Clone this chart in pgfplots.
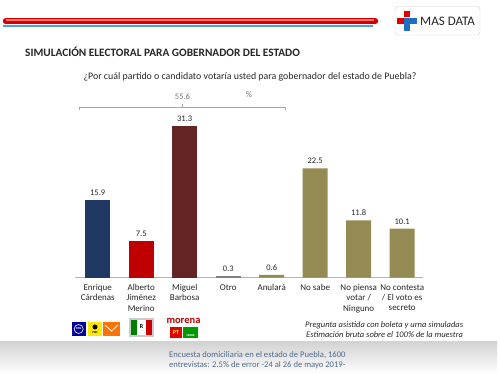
\documentclass[border=0pt]{standalone}
\usepackage{pgfplots}
\pgfplotsset{compat=1.18}
\usepackage{fontspec}
\setmainfont{Carlito}
\definecolor{cnavy}{HTML}{1F3864}
\definecolor{cred}{HTML}{C00000}
\definecolor{cmaroon}{HTML}{632523}
\definecolor{cgrey}{HTML}{7F7F7F}
\definecolor{colive}{HTML}{948A54}
\definecolor{ctext}{HTML}{262626}
\definecolor{cfoot}{HTML}{4F6A8F}
\definecolor{cblue}{HTML}{1E6FC0}
\definecolor{hred}{HTML}{D40000}
\definecolor{hblue}{HTML}{5B9BD5}
\begin{document}
\begin{tikzpicture}[x=1pt,y=1pt]
\useasboundingbox (0pt,0pt) rectangle (500pt,374pt);
\draw[gray!40, fill=white, rounded corners=3pt] (395,339) rectangle (480,367.5);
\fill[red!90!black] (397,350) rectangle (417,356);
\fill[red!90!black] (404,357) rectangle (410,363);
\fill[cblue] (404,343) rectangle (410,350);
\fill[cblue] (410,350) rectangle (417,356);
\fill[cblue] (404,350) rectangle (410,356);
\node[anchor=west, font=\fontsize{13}{14}\selectfont, text=black!85, inner sep=0] at (420,352.5) {MAS DATA};
% titles
\node[anchor=west, font=\fontsize{11.3}{13}\bfseries, text=ctext, inner sep=0] at (25,322) {SIMULACIÓN ELECTORAL PARA GOBERNADOR DEL ESTADO};
\node[font=\fontsize{9.9}{11}\selectfont, text=ctext, inner sep=0] at (250,297) {¿Por cuál partido o candidato votaría usted para gobernador del estado de Puebla?};
% bracket
\draw[gray!70, line width=0.6pt] (79,264) -- (79,267) -- (285.7,267) -- (285.7,264);
\draw[gray!70, line width=0.6pt] (182.7,267) -- (182.7,270);
\node[font=\fontsize{8.5}{9}\selectfont, text=gray!90!black, inner sep=0] at (182.5,277) {55.6};
\node[font=\fontsize{8.5}{9}\selectfont, text=gray!90!black, inner sep=0] at (249,279) {\%};
\begin{axis}[
  at={(97.7pt,96.3pt)}, anchor=origin,
  scale only axis, width=348pt, height=165.2pt,
  xmin=-0.52, xmax=7.48, ymin=0, ymax=34,
  axis y line=none, axis x line*=bottom,
  x axis line style={gray!60, line width=0.8pt, -},
  xtick={0,...,7}, major tick length=0pt,
  xticklabels={Enrique\\Cárdenas, Alberto\\Jiménez\\Merino, Miguel\\Barbosa, Otro, Anulará, No sabe, No piensa\\votar /\\Ninguno, No contesta\\/ El voto es\\secreto},
  xticklabel style={align=center, font=\fontsize{9}{10.3}\selectfont, text=ctext, yshift=-3pt},
  ybar, bar width=25pt,
  nodes near coords,
  every node near coord/.append style={font=\fontsize{8.5}{9}\selectfont, text=ctext, yshift=1pt},
  /pgf/number format/.cd, fixed, precision=1, fixed zerofill, assume math mode=true,
]
\addplot[fill=cnavy, draw=none, bar shift=0pt] coordinates {(0,15.9)};
\addplot[fill=cred, draw=none, bar shift=0pt] coordinates {(1,7.5)};
\addplot[fill=cmaroon, draw=none, bar shift=0pt] coordinates {(2,31.3)};
\addplot[fill=cgrey, draw=none, bar shift=0pt] coordinates {(3,0.3)};
\addplot[fill=colive, draw=none, bar shift=0pt] coordinates {(4,0.6) (5,22.5) (6,11.8) (7,10.1)};
\end{axis}
% party logos
\fill[blue!60!black] (71.7,38) rectangle (85.7,52);
\draw[white, line width=0.6pt] (78.7,45) circle (4.5);
\node[font=\fontsize{3}{3}\bfseries, text=white, inner sep=0] at (78.7,45) {PAN};
\fill[yellow!90!orange] (88,38) rectangle (102,52);
\node[font=\fontsize{3}{3}\bfseries, text=black, inner sep=0] at (95,41) {PRD};
\fill[black] (95,47) circle (2.5);
\fill[orange!90!red] (103,38) rectangle (120,52);
\draw[white, line width=0.8pt] (105,49) -- (111.5,43) -- (118,49);
\fill[gray!40] (129,37) rectangle (154,56);
\fill[green!50!black] (131,39) rectangle (137,54);
\fill[white] (137,39) rectangle (146,54);
\fill[red!80!black] (146,39) rectangle (152,54);
\node[font=\fontsize{6}{6}\bfseries, text=black, inner sep=0] at (141.5,47) {R};
\node[font=\fontsize{10.5}{11}\bfseries, text=red!75!black, inner sep=0] at (183.5,53) {morena};
\fill[red!90!black] (170,36) rectangle (182,47);
\node[font=\fontsize{6}{6}\bfseries, text=yellow, inner sep=0] at (176,41.5) {PT};
\fill[green!60!black] (183,36) rectangle (198,47);
\node[font=\fontsize{3}{3}\bfseries, text=white, inner sep=0] at (190.5,38.5) {VERDE};
% notes
\node[anchor=east, font=\fontsize{8.5}{9}\itshape, text=ctext, inner sep=0] at (463.3,48.3) {Pregunta asistida con boleta y urna simuladas};
\node[anchor=east, font=\fontsize{8.5}{9}\itshape, text=ctext, inner sep=0] at (463.3,39) {Estimación bruta sobre el 100\% de la muestra};
% footer
\shade[top color=gray!35, bottom color=white] (0,0) rectangle (497,32.5);
\node[anchor=west, font=\fontsize{8.6}{9}\selectfont, text=cfoot, inner sep=0] at (169,19) {Encuesta domiciliaria en el estado de Puebla, 1600};
\node[anchor=west, font=\fontsize{8.6}{9}\selectfont, text=cfoot, inner sep=0] at (169,9) {entrevistas: 2.5\% de error -24 al 26 de mayo 2019-};
% header (drawn last)
\draw[hblue, line width=1.5pt] (3,347.75) -- (373,347.75);
\draw[hred, line width=6.5pt, line cap=round] (6,352.75) -- (375,352.75);
\draw[red!55, line width=1.8pt] (6,354) -- (374,354);
\end{tikzpicture}
\end{document}
